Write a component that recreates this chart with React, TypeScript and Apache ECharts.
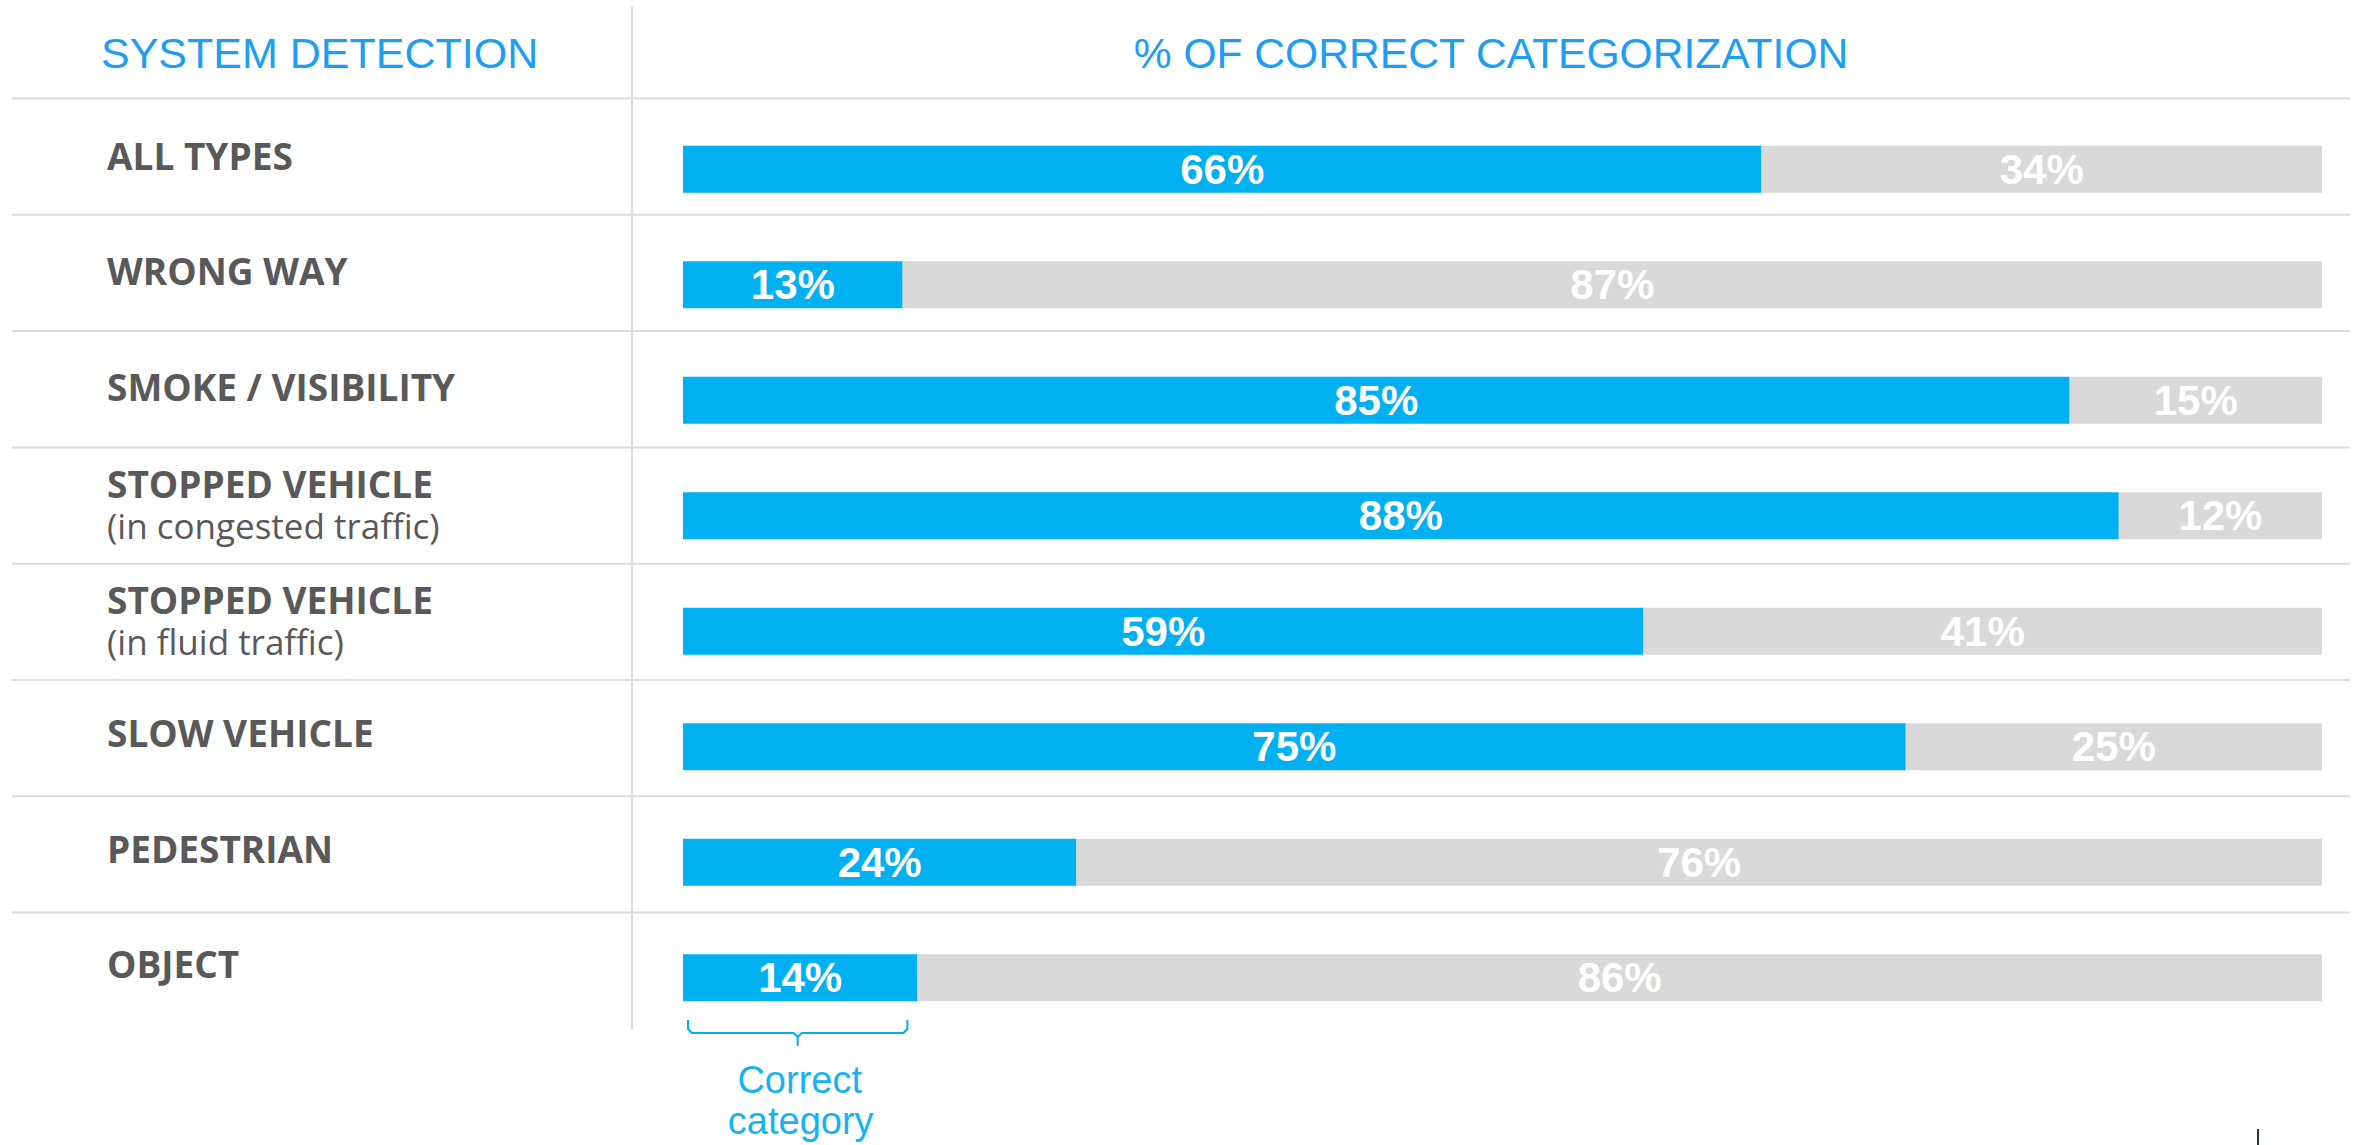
import React, { useEffect, useRef } from "react";
import * as echarts from "echarts";

// ---- data ----
const categories = [
  "ALL TYPES",
  "WRONG WAY",
  "SMOKE / VISIBILITY",
  "STOPPED VEHICLE\n(in congested traffic)",
  "STOPPED VEHICLE\n(in fluid traffic)",
  "SLOW VEHICLE",
  "PEDESTRIAN",
  "OBJECT",
];
// share of each bar (labels show rounded values)
const correctPct = [65.8, 13.4, 84.6, 87.6, 58.6, 74.6, 24.0, 14.3];
const wrongPct = [34.2, 86.6, 15.4, 12.4, 41.4, 25.4, 76.0, 85.7];
const leftHeader = "SYSTEM DETECTION";
const rightHeader = "% OF CORRECT CATEGORIZATION";
const bracketText = ["Correct", "category"];

// ---- layout ----
const W = 2359;
const H = 1145;
const GRID_LEFT = 683;
const GRID_RIGHT = 37;
const GRID_TOP = 111.5;
const ROW_H = 115.5;
const PLOT_W = W - GRID_LEFT - GRID_RIGHT;
const SEP_TOP = 98.5;
const SEP_STEP = 116.3;

const BLUE = "#00B0F0";
const GRAY = "#D9D9D9";
const LINE = "#DCDCDC";

const pctLabel = (p: any) => `${Math.round(p.value)}%`;

export default function App() {
  const ref = useRef<HTMLDivElement>(null);

  useEffect(() => {
    if (!ref.current) return;
    const chart = echarts.init(ref.current, undefined, { renderer: "svg" });

    const seps: any[] = categories.map((_, i) => ({
      type: "line",
      shape: { x1: 12, y1: SEP_TOP + i * SEP_STEP, x2: 2350, y2: SEP_TOP + i * SEP_STEP },
      style: { stroke: LINE, lineWidth: 2 },
      silent: true,
    }));

    const lastIdx = categories.length - 1;
    const bEndX = GRID_LEFT + (correctPct[lastIdx] / 100) * PLOT_W;
    const bL = GRID_LEFT + 5;
    const bR = bEndX - 10;
    const bM = (bL + bR) / 2;
    const bTop = 1020;
    const bMid = 1033;
    const bBot = 1046;

    const barLabel = {
      show: true,
      position: "inside",
      formatter: pctLabel,
      color: "#FFFFFF",
      fontFamily: "Liberation Sans",
      fontWeight: "bold",
      fontSize: 42,
    };

    const boldStyle = {
      fontFamily: "Open Sans",
      fontWeight: "bold",
      fontSize: 37,
      color: "#595959",
      lineHeight: 42,
    };

    chart.setOption({
      animation: false,
      backgroundColor: "#FFFFFF",
      grid: {
        left: GRID_LEFT,
        right: GRID_RIGHT,
        top: GRID_TOP,
        height: ROW_H * categories.length,
      },
      xAxis: {
        type: "value",
        min: 0,
        max: 100,
        show: false,
      },
      yAxis: {
        type: "category",
        inverse: true,
        data: categories,
        axisLine: { show: false },
        axisTick: { show: false },
        splitLine: { show: false },
        axisLabel: {
          align: "left",
          margin: GRID_LEFT - 107,
          padding: [0, 0, 22, 0],
          formatter: (v: string) => {
            const parts = v.split("\n");
            return parts.length > 1
              ? `{b|${parts[0]}}\n{n|${parts[1]}}`
              : `{s|${parts[0]}}`;
          },
          rich: {
            b: boldStyle,
            s: { ...boldStyle, padding: [0, 0, 6, 0] },
            n: {
              fontFamily: "Open Sans",
              fontSize: 35,
              color: "#595959",
              lineHeight: 42,
            },
          },
        },
      },
      series: [
        {
          name: "Correct",
          type: "bar",
          stack: "total",
          barWidth: 47,
          data: correctPct,
          itemStyle: { color: BLUE },
          label: barLabel,
        },
        {
          name: "Incorrect",
          type: "bar",
          stack: "total",
          barWidth: 47,
          data: wrongPct,
          itemStyle: { color: GRAY },
          label: barLabel,
        },
      ],
      graphic: [
        ...seps,
        {
          type: "line",
          shape: { x1: 632, y1: 7, x2: 632, y2: 1029 },
          style: { stroke: LINE, lineWidth: 2 },
          silent: true,
        },
        {
          type: "text",
          x: 101,
          y: 53,
          style: {
            text: leftHeader,
            fill: "#1E9EF2",
            font: "43px 'Liberation Sans'",
            textAlign: "left",
            textVerticalAlign: "middle",
          },
        },
        {
          type: "text",
          x: 1491,
          y: 53,
          style: {
            text: rightHeader,
            fill: "#1E9EF2",
            font: "42.6px 'Liberation Sans'",
            textAlign: "center",
            textVerticalAlign: "middle",
          },
        },
        {
          type: "polyline",
          shape: {
            points: [
              [bL, bTop],
              [bL, bMid - 4],
              [bL + 4, bMid],
              [bM - 4, bMid],
              [bM, bMid + 4],
              [bM, bBot],
            ],
          },
          style: { stroke: BLUE, lineWidth: 2, fill: "none" },
        },
        {
          type: "polyline",
          shape: {
            points: [
              [bR, bTop],
              [bR, bMid - 4],
              [bR - 4, bMid],
              [bM + 4, bMid],
              [bM, bMid + 4],
            ],
          },
          style: { stroke: BLUE, lineWidth: 2, fill: "none" },
        },
        {
          type: "text",
          x: bM + 2,
          y: 1080,
          style: {
            text: bracketText[0],
            fill: "#17B3F0",
            font: "38px 'Liberation Sans'",
            textAlign: "center",
            textVerticalAlign: "middle",
          },
        },
        {
          type: "text",
          x: bM + 3,
          y: 1121,
          style: {
            text: bracketText[1],
            fill: "#17B3F0",
            font: "38px 'Liberation Sans'",
            textAlign: "center",
            textVerticalAlign: "middle",
          },
        },
        {
          type: "line",
          shape: { x1: 2258, y1: 1129, x2: 2258, y2: 1145 },
          style: { stroke: "#1F3550", lineWidth: 2 },
          silent: true,
        },
      ],
    });

    return () => chart.dispose();
  }, []);

  return (
    <div
      ref={ref}
      style={{ position: "fixed", left: 0, top: 0, width: W, height: H }}
    />
  );
}
